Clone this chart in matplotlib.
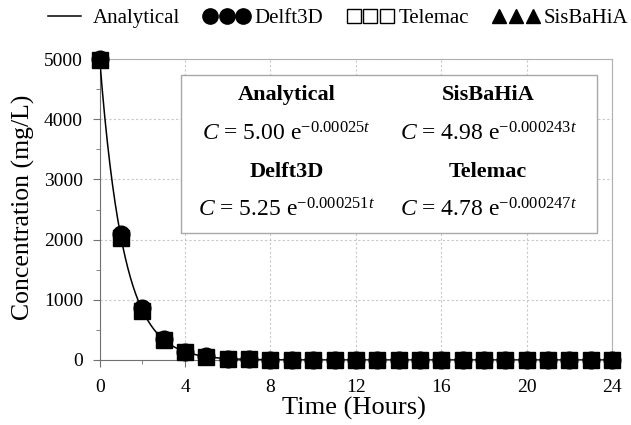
import numpy as np
import matplotlib
matplotlib.use('Agg')
from matplotlib import pyplot as plt
from matplotlib.lines import Line2D
from matplotlib.patches import Rectangle

plt.rcParams['font.family'] = ['Liberation Serif', 'DejaVu Serif']
plt.rcParams['mathtext.fontset'] = 'custom'
plt.rcParams['mathtext.rm'] = 'Liberation Serif'
plt.rcParams['mathtext.it'] = 'Liberation Serif:italic'
plt.rcParams['mathtext.bf'] = 'Liberation Serif:bold'

# hours
hours = list(range(25))
# concentrations (mg/L)
delft3d = [5000, 2090, 860, 350, 140, 58, 24, 10, 4, 2, 1, 0, 0,
           0, 0, 0, 0, 0, 0, 0, 0, 0, 0, 0, 0]
telemac = [4990, 2030, 820, 330, 130, 53, 21, 9, 4, 1.5, 0.6, 0, 0,
           0, 0, 0, 0, 0, 0, 0, 0, 0, 0, 0, 0]
sisbahia = [5000, 2070, 850, 345, 138, 56, 23, 9, 4, 1.5, 0.6, 0, 0,
            0, 0, 0, 0, 0, 0, 0, 0, 0, 0, 0, 0]

# analytical solution as stated on the chart: C = 5000 exp(-0.00025 t), t in s
c0 = 5000.0
k = 0.00025
t_line = np.linspace(0, 24, 400)
analytical = c0 * np.exp(-k * 3600 * t_line)

fits = [('Analytical', '5.00', '0.00025'),
        ('SisBaHiA', '4.98', '0.000243'),
        ('Delft3D', '5.25', '0.000251'),
        ('Telemac', '4.78', '0.000247')]

fig = plt.figure(figsize=(6.31, 4.25), dpi=100)
ax = fig.add_axes([0.158, 0.153, 0.812, 0.708])

ax.plot(t_line, analytical, color='black', lw=1.1, zorder=3)
# in the plot area the overlapping markers read as solid black squares
ax.plot(hours, telemac, 's', ms=12, mfc='black', mec='black', mew=1.0,
        zorder=4, clip_on=False)
ax.plot(hours, delft3d, 'o', ms=12, color='black', zorder=5, clip_on=False)
ax.plot(hours, sisbahia, '^', ms=10, color='black', zorder=6, clip_on=False)

ax.set_xlim(0, 24)
ax.set_ylim(0, 5000)
ax.set_xticks(range(0, 25, 4))
ax.set_xticks(range(2, 25, 4), minor=True)
ax.set_yticks(range(0, 5001, 1000))
ax.set_yticks(range(500, 5000, 1000), minor=True)
ax.tick_params(labelsize=14, direction='out', length=5, color='#707070')
ax.tick_params(axis='x', pad=9)
ax.tick_params(axis='y', pad=7)
ax.tick_params(which='minor', direction='out', length=3, color='#707070')
ax.grid(True, which='major', ls=(0, (2, 2)), color='#c8c8c8', lw=0.8)
ax.set_axisbelow(True)
for s in ['left', 'bottom']:
    ax.spines[s].set_color('#707070')
for s in ['top', 'right']:
    ax.spines[s].set_color('#b0b0b0')

ax.set_xlabel('Time (Hours)', fontsize=19)
ax.set_ylabel('Concentration (mg/L)', fontsize=18.5)
ax.xaxis.set_label_coords(0.497, -0.123)
ax.yaxis.set_label_coords(-0.126, 0.507)

# equation box
ax.add_patch(Rectangle((0.158, 0.422), 0.813, 0.525, transform=ax.transAxes,
                       facecolor='white', edgecolor='#a8a8a8', lw=1.0,
                       zorder=7))
cols = [0.365, 0.758]
rows = [(0.882, 0.75), (0.625, 0.50)]
for i, (name, a, b) in enumerate(fits):
    x = cols[i % 2]
    ty, fy = rows[i // 2]
    ax.text(x, ty, name, transform=ax.transAxes, ha='center', va='center',
            fontsize=16, fontweight='bold', zorder=8)
    ax.text(x, fy, r'$C$ = %s e$^{-%s\mathit{t}}$' % (a, b),
            transform=ax.transAxes, ha='center', va='center', fontsize=17,
            zorder=8)

handles = [Line2D([], [], color='black', lw=1.1),
           Line2D([], [], ls='none', marker='o', ms=11, color='black'),
           Line2D([], [], ls='none', marker='s', ms=10, mfc='white',
                  mec='black', mew=1.0),
           Line2D([], [], ls='none', marker='^', ms=10, color='black')]
fig.legend(handles, ['Analytical', 'Delft3D', 'Telemac', 'SisBaHiA'],
           loc='center', bbox_to_anchor=(0.531, 0.957), ncol=4,
           frameon=False, numpoints=3, fontsize=15, handlelength=2.2,
           handletextpad=0.25, columnspacing=1.15, borderaxespad=0)

fig.savefig('out.png', dpi=100)
